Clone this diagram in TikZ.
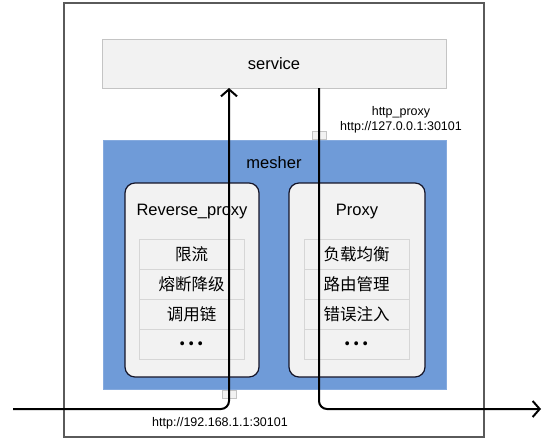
\documentclass[tikz,border=0pt]{standalone}
\usepackage{fontspec}
\setmainfont{Liberation Sans}
\newfontfamily\cjk{Noto Sans CJK SC}
\usetikzlibrary{arrows.meta}
\definecolor{meshblue}{RGB}{111,155,216}
\definecolor{lightfill}{RGB}{242,242,242}
\definecolor{svcborder}{RGB}{196,196,196}
\definecolor{cellborder}{RGB}{214,214,214}
\definecolor{boxborder}{RGB}{20,20,40}
\definecolor{outerborder}{RGB}{90,90,90}
\begin{document}
\begin{tikzpicture}[x=1pt,y=-1pt,
  bigtext/.style={font=\fontsize{16.5}{20}\selectfont},
  smalltext/.style={font=\fontsize{12.5}{15}\selectfont, align=center},
  outerbox/.style={draw=outerborder, line width=1.2pt, inner sep=0pt},
  svcbox/.style={draw=svcborder, fill=lightfill, line width=0.8pt, inner sep=0pt},
  meshbox/.style={fill=meshblue, draw=meshblue!85!white, inner sep=0pt},
  modbox/.style={draw=boxborder, fill=lightfill, line width=1.2pt, rounded corners=10pt, inner sep=0pt},
  cellbox/.style={draw=cellborder, fill=lightfill, line width=0.6pt, inner sep=0pt,
    minimum width=105pt, minimum height=30pt, font=\fontsize{16.5}{20}\selectfont\cjk},
  portbox/.style={draw=svcborder, fill=lightfill, line width=0.6pt, inner sep=0pt,
    minimum width=14pt, minimum height=8pt},
  flow/.style={line width=2pt, rounded corners=8pt},
  flowarrow/.style={flow, -{Straight Barb[length=7pt,width=16pt,line width=2pt]}}
]
\useasboundingbox (0,0) rectangle (554,444);

% outer box
\node[outerbox, minimum width=420pt, minimum height=434pt] (outer) at (274,220) {};

% service
\node[svcbox, minimum width=344pt, minimum height=49pt, bigtext] (service) at (274,63.5) {service};

% mesher
\node[meshbox, minimum width=343pt, minimum height=249pt] (mesher) at (274.5,264.5) {};
\node[bigtext] (mesherlabel) at (274,163) {mesher};

% ports
\node[portbox] (portT) at (319,135.5) {};
\node[portbox] (portB) at (229.5,394) {};

% modules
\node[modbox, minimum width=134pt, minimum height=194pt] (rp) at (192,280) {};
\node[modbox, minimum width=136pt, minimum height=194pt] (px) at (357,280) {};
\node[bigtext] (rplabel) at (192,212) {Reverse\_proxy};
\node[bigtext] (pxlabel) at (357,212) {Proxy};

% cells reverse proxy
\node[cellbox] (rp1) at (191.5,254) {限流};
\node[cellbox] (rp2) at (191.5,284) {熔断降级};
\node[cellbox] (rp3) at (191.5,314) {调用链};
\node[cellbox] (rp4) at (191.5,344) {\fontsize{18}{20}\selectfont\textbf{.\,.\,.}};
% cells proxy
\node[cellbox] (px1) at (356.5,254) {负载均衡};
\node[cellbox] (px2) at (356.5,284) {路由管理};
\node[cellbox] (px3) at (356.5,314) {错误注入};
\node[cellbox] (px4) at (356.5,344) {\fontsize{18}{20}\selectfont\textbf{.\,.\,.}};

% labels
\node[smalltext] (proxylabel) at (401,119.5) {http\_proxy\\http://127.0.0.1:30101};
\node[smalltext] (inlabel) at (220,423) {http://192.168.1.1:30101};

% flows
\coordinate (inL) at (13,409);
\coordinate (outR) at (541,409);
\coordinate (svcIn) at (229,88);
\coordinate (svcOut) at (319,88);
\draw[flowarrow] (inL) -| (svcIn);
\draw[flowarrow] (svcOut) |- (outR);
\end{tikzpicture}
\end{document}
